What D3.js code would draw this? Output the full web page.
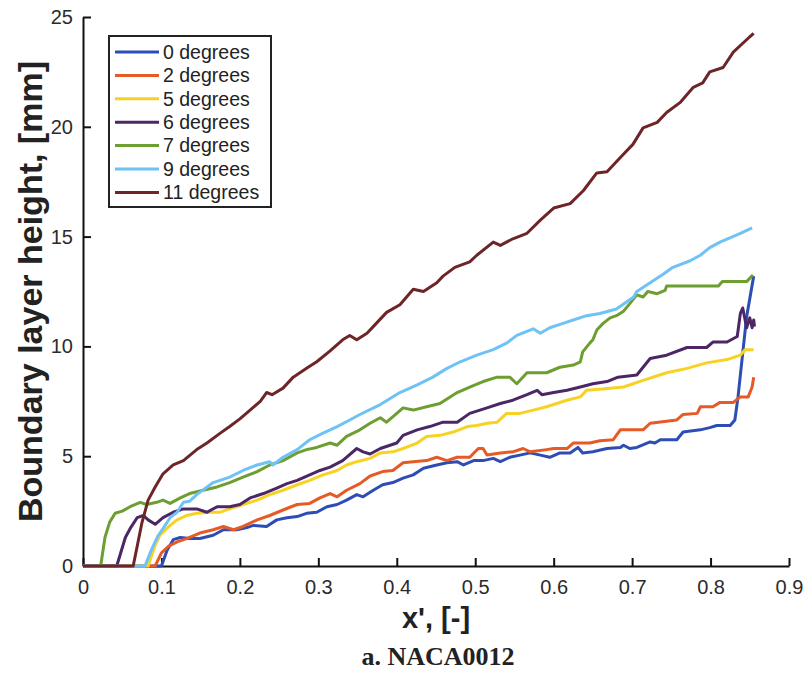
<!DOCTYPE html>
<html>
<head>
<meta charset="utf-8">
<script src="https://cdn.jsdelivr.net/npm/d3@7"></script>
<style>
  body { margin: 0; background: #fff; }
  svg { display: block; }
  .tick text { font-family: "Liberation Sans", Arial, sans-serif; font-size: 20px; fill: #2b2b2b; }
</style>
</head>
<body>
<svg width="806" height="675"></svg>
<script>
// series labels
const labels = ['0 degrees', '2 degrees', '5 degrees', '6 degrees', '7 degrees', '9 degrees', '11 degrees'];

// [x', height in mm]
const deg0 = [[0,0],[0.1,0],[0.107,0.7],[0.115,1.2],[0.124,1.3],[0.136,1.25],[0.149,1.25],[0.166,1.4],[0.179,1.65],[0.196,1.65],[0.209,1.75],[0.217,1.85],[0.234,1.8],[0.247,2.1],[0.26,2.2],[0.273,2.25],[0.285,2.4],[0.298,2.45],[0.311,2.7],[0.324,2.8],[0.336,3.0],[0.349,3.25],[0.357,3.15],[0.37,3.45],[0.382,3.7],[0.395,3.8],[0.408,4.0],[0.421,4.15],[0.434,4.45],[0.451,4.6],[0.464,4.7],[0.477,4.75],[0.485,4.6],[0.498,4.8],[0.51,4.8],[0.523,4.9],[0.532,4.75],[0.544,4.95],[0.557,5.05],[0.57,5.15],[0.583,5.05],[0.595,4.95],[0.608,5.15],[0.621,5.15],[0.631,5.4],[0.637,5.15],[0.65,5.2],[0.668,5.35],[0.685,5.4],[0.689,5.5],[0.697,5.35],[0.706,5.4],[0.723,5.65],[0.729,5.6],[0.736,5.75],[0.757,5.75],[0.765,6.1],[0.787,6.2],[0.799,6.3],[0.808,6.4],[0.825,6.4],[0.831,6.65],[0.835,7.7],[0.846,11.35],[0.855,13.2]];
const deg2 = [[0,0],[0.092,0],[0.1,0.6],[0.109,0.9],[0.12,1.1],[0.132,1.25],[0.149,1.5],[0.166,1.65],[0.179,1.8],[0.192,1.65],[0.204,1.8],[0.222,2.1],[0.238,2.3],[0.255,2.55],[0.273,2.8],[0.289,2.85],[0.302,3.1],[0.315,3.3],[0.324,3.15],[0.336,3.45],[0.353,3.75],[0.366,4.1],[0.382,4.3],[0.395,4.35],[0.408,4.7],[0.421,4.75],[0.438,4.8],[0.451,4.95],[0.464,4.8],[0.477,4.95],[0.493,4.95],[0.504,5.35],[0.51,5.35],[0.515,5.05],[0.532,5.15],[0.548,5.2],[0.561,5.35],[0.57,5.2],[0.591,5.3],[0.6,5.35],[0.617,5.35],[0.625,5.6],[0.646,5.6],[0.659,5.7],[0.676,5.75],[0.685,6.2],[0.714,6.2],[0.723,6.5],[0.757,6.65],[0.765,6.9],[0.783,6.95],[0.787,7.25],[0.803,7.25],[0.812,7.45],[0.829,7.45],[0.838,7.7],[0.848,7.7],[0.853,8.15],[0.855,8.6]];
const deg5 = [[0,0],[0.083,0],[0.092,0.95],[0.098,1.4],[0.111,1.85],[0.12,2.1],[0.132,2.3],[0.145,2.4],[0.162,2.45],[0.175,2.45],[0.187,2.6],[0.204,2.8],[0.222,3.0],[0.238,3.25],[0.255,3.45],[0.273,3.7],[0.289,3.9],[0.306,4.15],[0.324,4.35],[0.336,4.6],[0.349,4.75],[0.366,4.9],[0.379,5.15],[0.395,5.2],[0.408,5.35],[0.426,5.6],[0.438,5.9],[0.455,5.95],[0.472,6.1],[0.49,6.35],[0.502,6.4],[0.515,6.5],[0.528,6.55],[0.54,6.95],[0.557,6.95],[0.574,7.1],[0.591,7.25],[0.604,7.4],[0.617,7.55],[0.634,7.7],[0.642,8.0],[0.659,8.05],[0.689,8.15],[0.714,8.45],[0.744,8.8],[0.77,9.0],[0.795,9.25],[0.821,9.4],[0.838,9.6],[0.844,9.85],[0.855,9.85]];
const deg6 = [[0,0],[0.043,0],[0.054,1.3],[0.06,1.7],[0.069,2.2],[0.077,2.3],[0.083,2.1],[0.092,1.9],[0.102,2.2],[0.115,2.45],[0.128,2.6],[0.145,2.6],[0.158,2.45],[0.171,2.7],[0.187,2.7],[0.2,2.8],[0.213,3.1],[0.23,3.3],[0.247,3.55],[0.26,3.75],[0.273,3.9],[0.289,4.15],[0.302,4.35],[0.315,4.5],[0.331,4.8],[0.349,5.35],[0.357,5.2],[0.366,5.1],[0.379,5.35],[0.4,5.6],[0.408,5.95],[0.426,6.2],[0.442,6.35],[0.459,6.55],[0.477,6.55],[0.493,6.95],[0.515,7.2],[0.532,7.4],[0.548,7.55],[0.566,7.8],[0.579,8.0],[0.585,7.8],[0.6,7.9],[0.617,8.0],[0.634,8.15],[0.65,8.3],[0.668,8.4],[0.682,8.6],[0.706,8.7],[0.723,9.45],[0.744,9.6],[0.77,9.95],[0.795,9.95],[0.803,10.2],[0.821,10.2],[0.834,10.45],[0.838,11.5],[0.841,11.75],[0.846,10.85],[0.85,11.3],[0.853,10.85],[0.855,11.2],[0.856,10.9]];
const deg7 = [[0,0],[0.0225,0],[0.028,1.3],[0.034,2.0],[0.041,2.4],[0.05,2.5],[0.06,2.7],[0.073,2.9],[0.081,2.8],[0.094,2.9],[0.102,3.0],[0.111,2.85],[0.124,3.1],[0.136,3.3],[0.153,3.45],[0.171,3.6],[0.187,3.8],[0.204,4.05],[0.222,4.3],[0.238,4.6],[0.255,4.8],[0.273,5.15],[0.285,5.3],[0.298,5.4],[0.315,5.6],[0.324,5.5],[0.336,5.9],[0.353,6.2],[0.366,6.5],[0.379,6.75],[0.387,6.55],[0.4,6.95],[0.408,7.2],[0.421,7.1],[0.438,7.25],[0.455,7.4],[0.468,7.7],[0.477,7.9],[0.493,8.15],[0.51,8.4],[0.528,8.6],[0.544,8.6],[0.553,8.3],[0.566,8.8],[0.591,8.8],[0.608,9.05],[0.625,9.15],[0.634,9.3],[0.637,9.75],[0.646,10.15],[0.65,10.3],[0.655,10.75],[0.663,11.05],[0.672,11.3],[0.68,11.4],[0.689,11.6],[0.697,11.95],[0.706,12.35],[0.714,12.25],[0.72,12.5],[0.732,12.4],[0.742,12.55],[0.744,12.75],[0.81,12.75],[0.815,12.95],[0.846,12.95],[0.854,13.25]];
const deg9 = [[0,0],[0.079,0],[0.088,0.8],[0.096,1.4],[0.102,1.7],[0.111,2.2],[0.12,2.45],[0.128,2.9],[0.136,2.95],[0.145,3.25],[0.166,3.8],[0.187,4.05],[0.204,4.35],[0.222,4.6],[0.238,4.75],[0.242,4.6],[0.255,4.95],[0.273,5.3],[0.289,5.75],[0.306,6.05],[0.324,6.35],[0.34,6.65],[0.353,6.9],[0.379,7.35],[0.404,7.9],[0.426,8.25],[0.446,8.6],[0.464,9.0],[0.481,9.3],[0.502,9.6],[0.523,9.85],[0.54,10.15],[0.553,10.5],[0.574,10.8],[0.583,10.6],[0.595,10.85],[0.612,11.05],[0.625,11.2],[0.642,11.4],[0.659,11.5],[0.68,11.7],[0.702,12.25],[0.706,12.5],[0.723,12.9],[0.74,13.3],[0.752,13.6],[0.774,13.9],[0.787,14.15],[0.799,14.5],[0.812,14.75],[0.838,15.15],[0.853,15.4]];
const deg11 = [[0,0],[0.064,0],[0.075,1.95],[0.083,3.0],[0.092,3.6],[0.102,4.2],[0.115,4.6],[0.128,4.8],[0.145,5.3],[0.158,5.6],[0.175,6.05],[0.187,6.35],[0.2,6.7],[0.213,7.1],[0.226,7.5],[0.234,7.9],[0.241,7.8],[0.255,8.1],[0.268,8.6],[0.285,9.0],[0.298,9.3],[0.315,9.8],[0.331,10.3],[0.34,10.5],[0.349,10.3],[0.362,10.6],[0.37,10.9],[0.387,11.55],[0.404,11.9],[0.421,12.6],[0.434,12.5],[0.451,12.9],[0.459,13.2],[0.474,13.6],[0.493,13.85],[0.502,14.15],[0.523,14.75],[0.532,14.6],[0.548,14.9],[0.566,15.15],[0.583,15.75],[0.6,16.3],[0.621,16.5],[0.638,17.1],[0.655,17.9],[0.668,17.95],[0.685,18.6],[0.701,19.2],[0.714,19.95],[0.732,20.2],[0.744,20.65],[0.761,21.1],[0.778,21.8],[0.79,22.0],[0.799,22.5],[0.816,22.7],[0.829,23.4],[0.85,24.1],[0.855,24.25]];

const xTicks = [0, 0.1, 0.2, 0.3, 0.4, 0.5, 0.6, 0.7, 0.8, 0.9];
const yTicks = [0, 5, 10, 15, 20, 25];

const series = [deg0, deg2, deg5, deg6, deg7, deg9, deg11];
const colors = ['#2d4db4', '#e65a26', '#f8d222', '#4b2766', '#6c9e30', '#6fc2f5', '#6e2528'];

const svg = d3.select('svg');
const plotLeft = 83, plotRight = 789, plotTop = 17, plotBottom = 566;

let x = d3.scaleLinear().domain([0, 0.9]).range([plotLeft, plotRight]);
let y = d3.scaleLinear().domain([0, 25]).range([plotBottom, plotTop]);

// axes, ticks point inward like matlab
svg.append('g')
  .attr('transform', `translate(0,${plotBottom})`)
  .call(d3.axisBottom(x).tickValues(xTicks).tickFormat(d => d === 0 ? '0' : d3.format('.1f')(d))
    .tickSizeInner(-8).tickSizeOuter(0).tickPadding(14))
  .call(g => g.select('.domain').attr('stroke', '#111').attr('stroke-width', 2))
  .call(g => g.selectAll('.tick line').attr('stroke', '#111').attr('stroke-width', 2));

svg.append('g')
  .attr('transform', `translate(${plotLeft},0)`)
  .call(d3.axisLeft(y).tickValues(yTicks).tickSizeInner(-8).tickSizeOuter(0).tickPadding(10))
  .call(g => g.select('.domain').attr('stroke', '#111').attr('stroke-width', 2))
  .call(g => g.selectAll('.tick line').attr('stroke', '#111').attr('stroke-width', 2));

// curves
let line = d3.line().x(d => x(d[0])).y(d => y(d[1]));
series.forEach((s, i) => {
  svg.append('path')
    .attr('d', line(s))
    .attr('fill', 'none')
    .attr('stroke', colors[i])
    .attr('stroke-width', 3)
    .attr('stroke-linejoin', 'round');
});

// axis titles
svg.append('text')
  .attr('x', (plotLeft + plotRight) / 2).attr('y', 628)
  .attr('text-anchor', 'middle')
  .style('font', 'bold 29px "Liberation Sans", Arial, sans-serif')
  .attr('fill', '#222')
  .text("x', [-]");

svg.append('text')
  .attr('transform', `translate(42,${(plotTop + plotBottom) / 2}) rotate(-90)`)
  .attr('text-anchor', 'middle')
  .style('font', 'bold 34px "Liberation Sans", Arial, sans-serif')
  .attr('fill', '#222')
  .text('Boundary layer height, [mm]');

svg.append('text')
  .attr('x', 438).attr('y', 665)
  .attr('text-anchor', 'middle')
  .style('font', 'bold 26px "Liberation Serif", "Times New Roman", serif')
  .attr('fill', '#222')
  .text('a. NACA0012');

// legend
let legend = svg.append('g');
legend.append('rect')
  .attr('x', 109).attr('y', 36).attr('width', 162).attr('height', 171)
  .attr('fill', '#fff').attr('stroke', '#222').attr('stroke-width', 2);
labels.forEach((lab, i) => {
  let ly = 52 + i * 23.4;
  legend.append('line')
    .attr('x1', 115).attr('x2', 159).attr('y1', ly).attr('y2', ly)
    .attr('stroke', colors[i]).attr('stroke-width', 3);
  legend.append('text')
    .attr('x', 163).attr('y', ly).attr('dy', '0.35em')
    .style('font', '19.5px "Liberation Sans", Arial, sans-serif')
    .attr('fill', '#222')
    .text(lab);
});
</script>
</body>
</html>
